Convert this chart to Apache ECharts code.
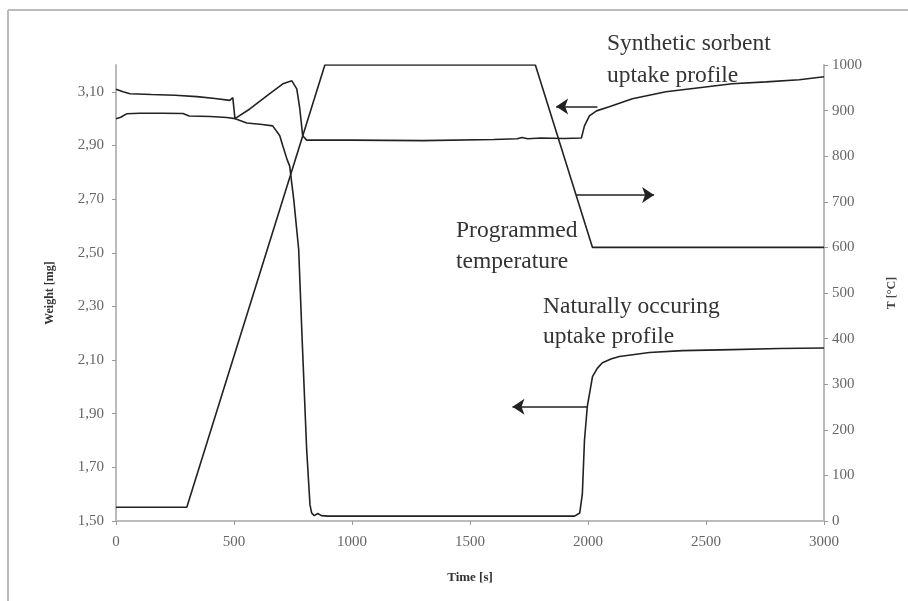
<!DOCTYPE html>
<html>
<head>
<meta charset="utf-8">
<script src="https://cdn.jsdelivr.net/npm/echarts@6/dist/echarts.min.js"></script>
<style>
  html, body { margin: 0; padding: 0; background: #fff; }
  #chart { width: 908px; height: 601px; }
</style>
</head>
<body>
<div id="chart"></div>
<script>
var dom = document.getElementById("chart");
var chart = echarts.init(dom);

// synthetic sorbent weight [mg] vs time [s]
var synthTime = [0, 30, 59, 150, 250, 343, 420, 482, 495, 503, 504, 567, 639, 707, 745, 766, 779, 791, 808, 1000, 1300, 1600, 1700, 1720, 1745, 1800, 1900, 1972, 1985, 2006, 2036, 2090, 2188, 2330, 2471, 2611, 2755, 2895, 3000];
var synthWeight = [3.11, 3.10, 3.093, 3.09, 3.087, 3.082, 3.075, 3.068, 3.078, 3.076, 3.00, 3.036, 3.085, 3.13, 3.141, 3.111, 3.036, 2.936, 2.92, 2.92, 2.918, 2.922, 2.925, 2.93, 2.925, 2.928, 2.926, 2.928, 2.973, 3.010, 3.029, 3.044, 3.074, 3.100, 3.115, 3.130, 3.137, 3.145, 3.156];

// naturally occuring sorbent weight [mg] vs time [s]
var natTime = [0, 20, 45, 100, 200, 284, 310, 400, 470, 505, 554, 620, 664, 694, 707, 724, 736, 753, 774, 790, 808, 822, 829, 840, 855, 870, 900, 1500, 1943, 1965, 1976, 1985, 1997, 2019, 2040, 2061, 2100, 2133, 2260, 2400, 2611, 2810, 3000];
var natWeight = [3.00, 3.005, 3.018, 3.02, 3.02, 3.019, 3.01, 3.008, 3.004, 3.00, 2.984, 2.978, 2.973, 2.936, 2.898, 2.85, 2.823, 2.70, 2.513, 2.15, 1.765, 1.56, 1.53, 1.52, 1.528, 1.52, 1.518, 1.518, 1.518, 1.53, 1.60, 1.80, 1.926, 2.038, 2.07, 2.09, 2.105, 2.113, 2.128, 2.135, 2.139, 2.143, 2.145];

// programmed temperature [°C]
var tempTime = [0, 300, 885, 1777, 2019, 3000];
var tempValue = [30, 30, 1000, 1000, 600, 600];

function pairs(xs, ys) {
  return xs.map(function (x, i) { return [x, ys[i]]; });
}

var serif = 'Liberation Serif';
var lineColor = '#222';
var axisGray = '#bbb';

var annot = function (x, y, txt) {
  return {
    type: 'text', left: x, top: y,
    style: { text: txt, font: '23.5px "Liberation Serif"', fill: '#333' }
  };
};

option = {
  animation: false,
  backgroundColor: '#fff',
  grid: { left: 116, right: 84, top: 65, bottom: 80 },
  xAxis: {
    type: 'value', min: 0, max: 3000, interval: 500,
    name: 'Time [s]', nameLocation: 'middle', nameGap: 50,
    nameTextStyle: { fontFamily: serif, fontWeight: 'bold', fontSize: 13, color: '#333' },
    axisLine: { lineStyle: { color: axisGray, width: 2 } },
    axisTick: { show: true, length: 4, lineStyle: { color: '#999' } },
    axisLabel: {
      fontFamily: serif, fontSize: 15, color: '#666', margin: 14,
      formatter: function (v) { return String(v); }
    },
    splitLine: { show: false }
  },
  yAxis: [
    {
      type: 'value', min: 1.5, max: 3.2, interval: 0.2, position: 'left',
      name: 'Weight [mg]', nameLocation: 'middle', nameGap: 60, nameRotate: 90,
      nameTextStyle: { fontFamily: serif, fontWeight: 'bold', fontSize: 12, color: '#333' },
      axisLine: { show: true, lineStyle: { color: axisGray, width: 2 } },
      axisTick: { show: true, length: 4, lineStyle: { color: '#999' } },
      axisLabel: {
        fontFamily: serif, fontSize: 15, color: '#666', margin: 12, showMaxLabel: false,
        formatter: function (v) { return v.toFixed(2).replace('.', ','); }
      },
      splitLine: { show: false }
    },
    {
      type: 'value', min: 0, max: 1000, interval: 100, position: 'right',
      name: 'T [°C]', nameLocation: 'middle', nameGap: 62, nameRotate: 90,
      nameTextStyle: { fontFamily: serif, fontWeight: 'bold', fontSize: 12, color: '#444' },
      axisLine: { show: true, lineStyle: { color: axisGray, width: 2 } },
      axisTick: { show: true, length: 4, lineStyle: { color: '#999' } },
      axisLabel: {
        fontFamily: serif, fontSize: 15, color: '#666', margin: 8,
        formatter: function (v) { return String(v); }
      },
      splitLine: { show: false }
    }
  ],
  graphic: [
    { type: 'line', shape: { x1: 8, y1: 10, x2: 908, y2: 10 }, style: { stroke: '#bbb', lineWidth: 2 } },
    { type: 'line', shape: { x1: 8, y1: 10, x2: 8, y2: 601 }, style: { stroke: '#bbb', lineWidth: 2 } },
    annot(607, 32, 'Synthetic sorbent'),
    annot(607, 64, 'uptake profile'),
    annot(456, 219, 'Programmed'),
    annot(456, 250, 'temperature'),
    annot(543, 295, 'Naturally occuring'),
    annot(543, 325, 'uptake profile')
  ],
  series: [
    {
      name: 'Synthetic', type: 'line', yAxisIndex: 0, showSymbol: false, symbol: 'none',
      data: pairs(synthTime, synthWeight),
      lineStyle: { color: lineColor, width: 1.6 },
      markLine: {
        silent: true, symbolSize: 12,
        lineStyle: { color: lineColor, width: 1.6, type: 'solid' },
        label: { show: false },
        data: [[
          { coord: [2040, 3.045], symbol: 'none' },
          { coord: [1865, 3.045], symbol: 'arrow' }
        ]]
      }
    },
    {
      name: 'Natural', type: 'line', yAxisIndex: 0, showSymbol: false, symbol: 'none',
      data: pairs(natTime, natWeight),
      lineStyle: { color: lineColor, width: 1.6 },
      markLine: {
        silent: true, symbolSize: 12,
        lineStyle: { color: lineColor, width: 1.6, type: 'solid' },
        label: { show: false },
        data: [[
          { coord: [1997, 1.926], symbol: 'none' },
          { coord: [1680, 1.926], symbol: 'arrow' }
        ]]
      }
    },
    {
      name: 'Temperature', type: 'line', yAxisIndex: 1, showSymbol: false, symbol: 'none',
      data: pairs(tempTime, tempValue),
      lineStyle: { color: lineColor, width: 1.6 },
      markLine: {
        silent: true, symbolSize: 12,
        lineStyle: { color: lineColor, width: 1.6, type: 'solid' },
        label: { show: false },
        data: [[
          { coord: [1950, 715], symbol: 'none' },
          { coord: [2280, 715], symbol: 'arrow' }
        ]]
      }
    }
  ]
};
chart.setOption(option, true);
</script>
</body>
</html>
